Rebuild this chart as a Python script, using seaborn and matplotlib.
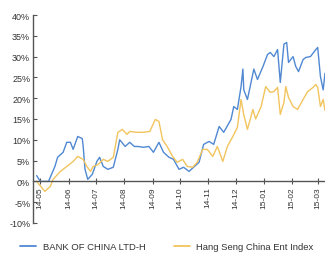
import seaborn as sns
import matplotlib.pyplot as plt
import matplotlib.dates as mdates
import matplotlib.ticker as mticker
import pandas as pd

sns.set_theme(style='white')
plt.rcParams['font.family'] = ['Liberation Sans', 'DejaVu Sans']
plt.rcParams['font.size'] = 6.5

# relative performance (%)
boc_dates = ['2014-04-27', '2014-05-01', '2014-05-10', '2014-05-17', '2014-05-20', '2014-05-26',
             '2014-05-30', '2014-06-03', '2014-06-06', '2014-06-11', '2014-06-16', '2014-06-17',
             '2014-06-19', '2014-06-22', '2014-06-27', '2014-07-02', '2014-07-05', '2014-07-09',
             '2014-07-14', '2014-07-20', '2014-07-25', '2014-07-27', '2014-08-02', '2014-08-07',
             '2014-08-12', '2014-08-16', '2014-08-22', '2014-08-28', '2014-09-02', '2014-09-08',
             '2014-09-13', '2014-09-19', '2014-09-24', '2014-09-30', '2014-10-05', '2014-10-11',
             '2014-10-16', '2014-10-22', '2014-10-27', '2014-11-02', '2014-11-07', '2014-11-13',
             '2014-11-18', '2014-11-26', '2014-11-29', '2014-12-03', '2014-12-07', '2014-12-09',
             '2014-12-10', '2014-12-14', '2014-12-17', '2014-12-21', '2014-12-25', '2014-12-31',
             '2015-01-05', '2015-01-08', '2015-01-12', '2015-01-16', '2015-01-19', '2015-01-23',
             '2015-01-26', '2015-01-28', '2015-02-02', '2015-02-05', '2015-02-08', '2015-02-13',
             '2015-02-16', '2015-02-21', '2015-02-27', '2015-03-01', '2015-03-04', '2015-03-07',
             '2015-03-09']
boc_vals = [1.4, 0.0, 0.0, 3.6, 5.8, 7.0,
            9.4, 9.4, 7.7, 10.8, 10.3, 8.4,
            2.9, 0.5, 1.7, 4.8, 5.8, 3.6,
            2.9, 3.4, 7.7, 10.0, 8.4, 9.4,
            8.4, 8.4, 8.2, 8.4, 7.0, 9.4,
            7.0, 5.8, 5.3, 2.9, 3.4, 2.4,
            3.4, 4.6, 8.9, 9.6, 8.9, 13.2,
            11.8, 14.9, 18.0, 17.3, 22.8, 27.0,
            22.0, 19.7, 22.8, 27.0, 24.5, 27.6,
            30.5, 31.0, 30.0, 31.7, 23.8, 33.0,
            33.4, 28.6, 30.0, 27.6, 26.4, 29.3,
            29.8, 30.0, 31.7, 32.2, 25.2, 22.0,
            26.0]

hsce_dates = ['2014-04-27', '2014-05-06', '2014-05-12', '2014-05-15', '2014-05-23', '2014-05-30',
              '2014-06-06', '2014-06-11', '2014-06-17', '2014-06-21', '2014-06-25', '2014-06-28',
              '2014-07-03', '2014-07-09', '2014-07-14', '2014-07-20', '2014-07-25', '2014-07-30',
              '2014-08-04', '2014-08-07', '2014-08-15', '2014-08-22', '2014-08-29', '2014-09-04',
              '2014-09-08', '2014-09-12', '2014-09-17', '2014-09-23', '2014-09-28', '2014-10-04',
              '2014-10-09', '2014-10-15', '2014-10-20', '2014-10-26', '2014-10-31', '2014-11-06',
              '2014-11-11', '2014-11-17', '2014-11-22', '2014-11-28', '2014-12-03', '2014-12-07',
              '2014-12-10', '2014-12-14', '2014-12-20', '2014-12-23', '2014-12-29', '2015-01-03',
              '2015-01-08', '2015-01-12', '2015-01-16', '2015-01-19', '2015-01-23', '2015-01-25',
              '2015-01-28', '2015-02-02', '2015-02-07', '2015-02-13', '2015-02-18', '2015-02-24',
              '2015-02-27', '2015-03-01', '2015-03-04', '2015-03-07', '2015-03-09']
hsce_vals = [0.0, -2.4, -1.2, 0.5, 2.4, 3.6,
             4.8, 6.0, 5.3, 3.6, 2.4, 3.6,
             4.0, 5.3, 4.8, 5.8, 11.8, 12.5,
             11.3, 12.0, 11.8, 11.8, 12.0, 14.9,
             14.4, 10.0, 8.4, 6.0, 4.6, 5.3,
             3.6, 3.4, 4.6, 7.7, 7.7, 6.0,
             8.4, 4.8, 8.4, 10.8, 13.0, 19.7,
             16.0, 12.5, 17.3, 15.0, 18.0, 22.8,
             21.4, 21.6, 22.6, 16.1, 19.0, 22.8,
             20.2, 18.0, 17.3, 19.7, 21.6, 22.6,
             23.3, 22.6, 18.0, 19.7, 17.0]

series_names = ['BANK OF CHINA LTD-H', 'Hang Seng China Ent Index']
colors = ['#5088d2', '#f2c45e']
month_ticks = pd.date_range('2014-05-01', '2015-03-01', freq='MS')

df = pd.concat([
    pd.DataFrame({'date': pd.to_datetime(boc_dates), 'value': boc_vals, 'series': series_names[0]}),
    pd.DataFrame({'date': pd.to_datetime(hsce_dates), 'value': hsce_vals, 'series': series_names[1]}),
])

fig = plt.figure(figsize=(3.25, 2.55), dpi=100)
ax = fig.add_axes([33 / 325, 1 - 224 / 255, 292 / 325, 208 / 255])

sns.lineplot(data=df, x='date', y='value', hue='series', palette=colors,
             linewidth=1.0, ax=ax, legend=False)

ax.set_xlim(pd.Timestamp('2014-04-23'), pd.Timestamp('2015-03-09'))
ax.set_ylim(-10, 40)
ax.yaxis.set_major_locator(mticker.MultipleLocator(5))
ax.yaxis.set_major_formatter(mticker.FuncFormatter(lambda v, p: f'{v:.0f}%'))
ax.set_xticks(month_ticks)
ax.xaxis.set_major_formatter(mdates.DateFormatter('%y-%m'))
ax.set_xlabel('')
ax.set_ylabel('')

for s in ['top', 'right']:
    ax.spines[s].set_visible(False)
ax.spines['bottom'].set_position(('data', 0))
ax.spines['bottom'].set_color('#555555')
ax.spines['left'].set_color('#555555')
ax.spines['bottom'].set_linewidth(1.0)
ax.spines['left'].set_linewidth(1.0)

ax.tick_params(axis='y', direction='in', length=3, width=0.8, color='#555555',
               labelsize=6.5, labelcolor='#333333', pad=2, left=True)
ax.tick_params(axis='x', direction='inout', length=5, width=0.8, color='#555555',
               labelsize=6, labelcolor='#333333', pad=1, bottom=True, labelrotation=90)

handles = [plt.Line2D([], [], color=c, linewidth=1.3) for c in colors]
fig.legend(handles, series_names, loc='center left', bbox_to_anchor=(20 / 325, 1 - 248 / 255),
           ncol=2, frameon=False, fontsize=6.8, handlelength=1.7, handletextpad=0.7,
           columnspacing=3.0, borderpad=0, borderaxespad=0, labelcolor='#333333')

fig.savefig('out.png', dpi=100)
